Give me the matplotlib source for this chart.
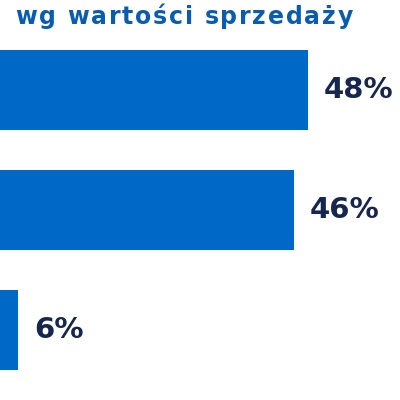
import matplotlib
matplotlib.use("Agg")
import matplotlib.pyplot as plt
from matplotlib.font_manager import FontProperties, findfont
from matplotlib.ft2font import FT2Font

categories = ["A", "B", "C"]
values = [48, 46, 6]
labels = ["48%", "46%", "6%"]
title = "wg wartości sprzedaży"

bar_color = "#0068c6"
label_color = "#16264f"
title_color = "#0a5cb0"

fig = plt.figure(figsize=(4, 4), dpi=100)
ax = fig.add_axes([0, 0, 1, 1])
pos = list(range(len(categories)))
ax.barh(pos, values, height=0.667, color=bar_color, left=0)
for p, v, l in zip(pos, values, labels):
    ax.text(v + 2.3, p, l, va="center", ha="left", fontsize=21,
            fontweight="bold", color=label_color, family="DejaVu Sans")
ax.set_xlim(3.39, 61.32)
ax.set_ylim(2.583, -0.75)
ax.axis("off")

# title with slight letter spacing (tracking)
tsize = 17
prop = FontProperties(family="DejaVu Sans", weight="bold", size=tsize)
ft = FT2Font(findfont(prop))
ft.set_size(tsize, 100)
adv = [ft.load_char(ord(c)).linearHoriAdvance / 65536.0 for c in title]
x0, x1 = 15.0, 353.0
natural = sum(adv)
spacing = (x1 - x0 - natural) / (len(title) - 1)
x = x0
for ch, a in zip(title, adv):
    if ch != " ":
        fig.text(x / 400, 1 - 24 / 400, ch, fontproperties=prop,
                 color=title_color, ha="left", va="baseline")
    x += a + spacing
fig.savefig("out.png", dpi=100, facecolor="white")
